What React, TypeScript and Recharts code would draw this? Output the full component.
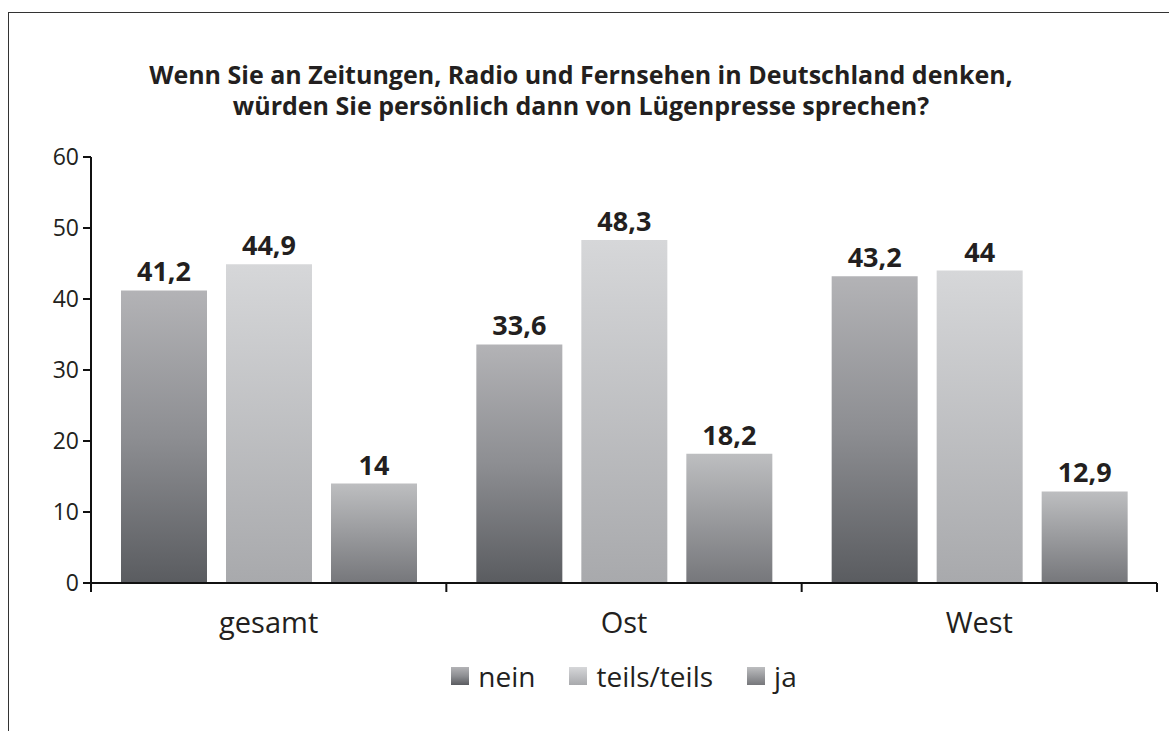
import { Bar, BarChart, LabelList, Legend, XAxis, YAxis } from "recharts";

const regions = ["gesamt", "Ost", "West"];
const nein = [41.2, 33.6, 43.2];
const teils = [44.9, 48.3, 44];
const ja = [14, 18.2, 12.9];
const yTicks = [0, 10, 20, 30, 40, 50, 60];

const seriesNames = ["nein", "teils/teils", "ja"];

const data = regions.map((region, i) => ({
  region,
  nein: nein[i],
  teils: teils[i],
  ja: ja[i],
}));

const FONT = '"Open Sans", "Noto Sans", sans-serif';
const INK = "#231f20";

const fmt = (v: unknown) =>
  typeof v === "number" ? String(v).replace(".", ",") : `${v}`;

function CategoryTick(props: any) {
  const { x, y, payload, index } = props;
  const half = payload?.offset ? payload.offset : 1066 / 6;
  return (
    <g>
      {index === 0 && (
        <line x1={x - half} x2={x - half} y1={y} y2={y + 9} stroke="#111" strokeWidth={2} />
      )}
      <line x1={x + half} x2={x + half} y1={y} y2={y + 9} stroke="#111" strokeWidth={2} />
      <text x={x} y={y + 50} textAnchor="middle" fill={INK} fontSize={29} fontFamily={FONT}>
        {payload.value}
      </text>
    </g>
  );
}

function LegendContent(props: any) {
  const items = [...(props.payload || [])].sort(
    (a: any, b: any) => seriesNames.indexOf(a.value) - seriesNames.indexOf(b.value)
  );
  return (
    <div style={{ display: "flex", justifyContent: "center", alignItems: "center", gap: 34 }}>
      {items.map((p: any) => (
        <div key={p.value} style={{ display: "flex", alignItems: "center" }}>
          <svg width={18} height={18} style={{ marginRight: 9 }}>
            <rect width={18} height={18} fill={p.color} />
          </svg>
          <span style={{ fontFamily: FONT, fontSize: 28, color: INK, lineHeight: "36px" }}>
            {p.value}
          </span>
        </div>
      ))}
    </div>
  );
}

export default function App() {
  return (
    <div
      style={{
        position: "absolute",
        left: 0,
        top: 0,
        width: 1169,
        height: 731,
        background: "#fff",
        overflow: "hidden",
      }}
    >
      <div
        style={{
          position: "absolute",
          left: 8,
          top: 12,
          right: -4,
          bottom: -4,
          borderLeft: "1.5px solid #333",
          borderTop: "1.5px solid #333",
        }}
      />
      <div
        style={{
          position: "absolute",
          left: 81,
          width: 1000,
          top: 59,
          textAlign: "center",
          fontFamily: FONT,
          fontWeight: 700,
          fontSize: 25,
          lineHeight: "31px",
          color: INK,
        }}
      >
        Wenn Sie an Zeitungen, Radio und Fernsehen in Deutschland denken,
        <br />
        würden Sie persönlich dann von Lügenpresse sprechen?
      </div>
      <div style={{ position: "absolute", left: 0, top: 0 }}>
        <BarChart
          width={1169}
          height={731}
          data={data}
          margin={{ top: 157, right: 12, bottom: 52, left: 31 }}
          barSize={86}
          barGap={19}
        >
          <defs>
            <linearGradient id="gNein" x1="0" y1="0" x2="0" y2="1">
              <stop offset="0%" stopColor="#b3b3b6" />
              <stop offset="50%" stopColor="#8d8e92" />
              <stop offset="100%" stopColor="#5a5c60" />
            </linearGradient>
            <linearGradient id="gTeils" x1="0" y1="0" x2="0" y2="1">
              <stop offset="0%" stopColor="#d6d7d9" />
              <stop offset="100%" stopColor="#a8a9ac" />
            </linearGradient>
            <linearGradient id="gJa" x1="0" y1="0" x2="0" y2="1">
              <stop offset="0%" stopColor="#bdbec0" />
              <stop offset="100%" stopColor="#76777b" />
            </linearGradient>
          </defs>
          <XAxis
            dataKey="region"
            height={60}
            tickSize={0}
            tickMargin={0}
            tickLine={false}
            axisLine={{ stroke: "#111", strokeWidth: 2 }}
            tick={<CategoryTick />}
            interval={0}
          />
          <YAxis
            width={60}
            domain={[0, 60]}
            ticks={yTicks}
            tickSize={8}
            tickMargin={4}
            axisLine={{ stroke: "#111", strokeWidth: 2 }}
            tickLine={{ stroke: "#111", strokeWidth: 2 }}
            tick={{ fill: INK, fontSize: 23, fontFamily: FONT }}
          />
          <Legend
            verticalAlign="bottom"
            content={<LegendContent />}
            wrapperStyle={{ top: 658, left: 91, width: 1066, height: 36 }}
          />
          <Bar dataKey="nein" name={seriesNames[0]} fill="url(#gNein)" isAnimationActive={false}>
            <LabelList
              dataKey="nein"
              position="top"
              offset={9}
              formatter={fmt}
              fill={INK}
              fontSize={27}
              fontWeight={700}
              fontFamily={FONT}
            />
          </Bar>
          <Bar dataKey="teils" name={seriesNames[1]} fill="url(#gTeils)" isAnimationActive={false}>
            <LabelList
              dataKey="teils"
              position="top"
              offset={9}
              formatter={fmt}
              fill={INK}
              fontSize={27}
              fontWeight={700}
              fontFamily={FONT}
            />
          </Bar>
          <Bar dataKey="ja" name={seriesNames[2]} fill="url(#gJa)" isAnimationActive={false}>
            <LabelList
              dataKey="ja"
              position="top"
              offset={9}
              formatter={fmt}
              fill={INK}
              fontSize={27}
              fontWeight={700}
              fontFamily={FONT}
            />
          </Bar>
        </BarChart>
      </div>
    </div>
  );
}
